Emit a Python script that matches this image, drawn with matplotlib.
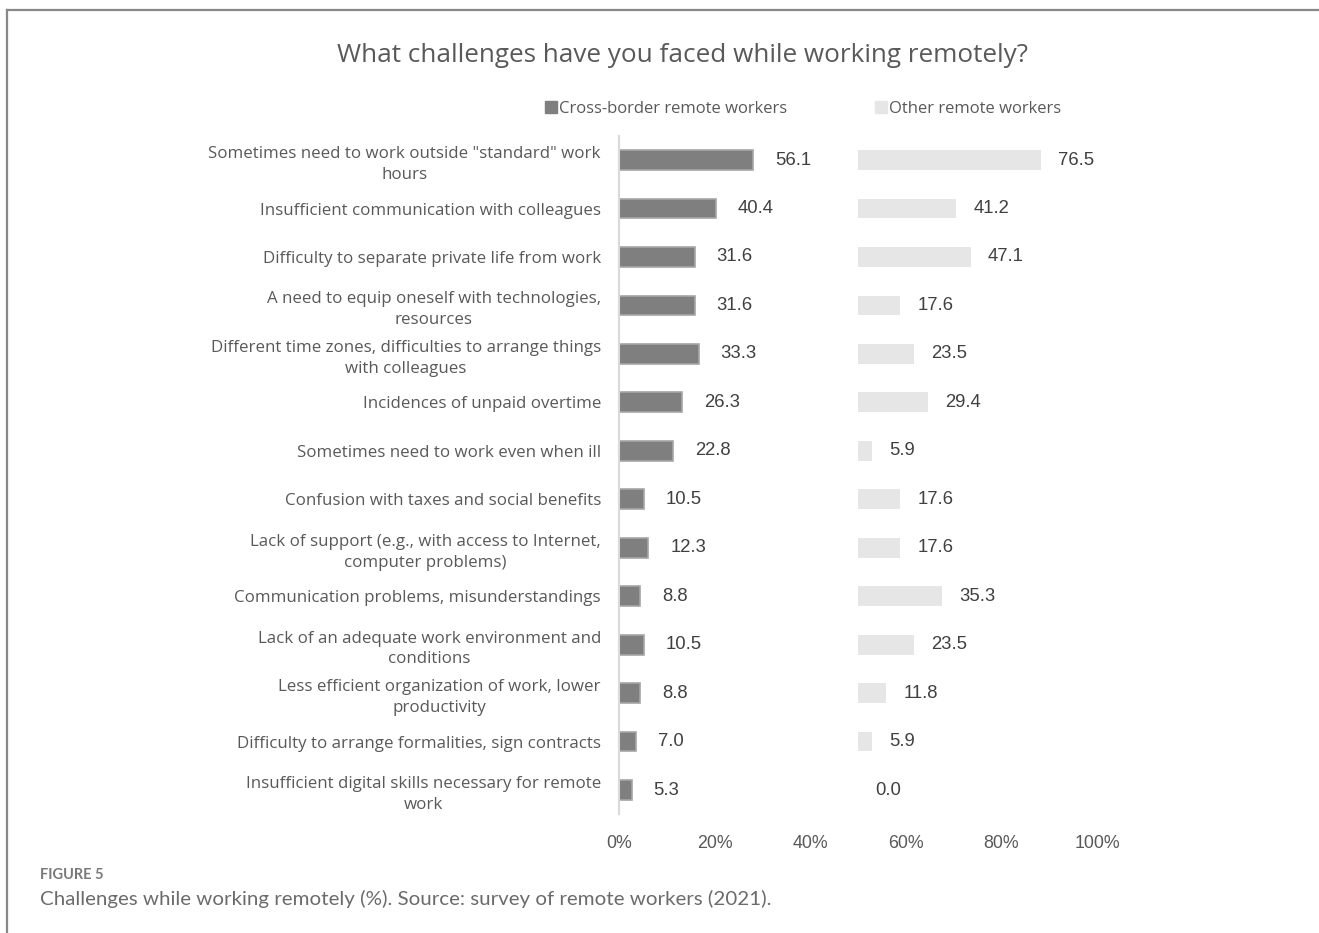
import matplotlib
matplotlib.use("Agg")
import matplotlib.pyplot as plt
from matplotlib.lines import Line2D

plt.rcParams['font.family'] = ['Open Sans', 'DejaVu Sans']

categories = [
    'Sometimes need to work outside "standard" work\nhours',
    'Insufficient communication with colleagues',
    'Difficulty to separate private life from work',
    'A need to equip oneself with technologies,\nresources',
    'Different time zones, difficulties to arrange things\nwith colleagues',
    'Incidences of unpaid overtime',
    'Sometimes need to work even when ill',
    'Confusion with taxes and social benefits',
    'Lack of support (e.g., with access to Internet,\ncomputer problems)',
    'Communication problems, misunderstandings',
    'Lack of an adequate work environment and\nconditions',
    'Less efficient organization of work, lower\nproductivity',
    'Difficulty to arrange formalities, sign contracts',
    'Insufficient digital skills necessary for remote\nwork',
]
cross_border = [56.1, 40.4, 31.6, 31.6, 33.3, 26.3, 22.8, 10.5, 12.3, 8.8, 10.5, 8.8, 7.0, 5.3]
other_remote = [76.5, 41.2, 47.1, 17.6, 23.5, 29.4, 5.9, 17.6, 17.6, 35.3, 23.5, 11.8, 5.9, 0.0]
series_names = ['Cross-border remote workers', 'Other remote workers']
xticks = [0, 20, 40, 60, 80, 100]

dark = '#7f7f7f'
light = '#e6e6e6'
txt = '#595959'

fig = plt.figure(figsize=(13.19, 9.33), dpi=100)
ax = fig.add_axes([0.4693, 0.1273, 0.3624, 0.7271])

y = list(range(len(categories)))
# each panel shares one 0-100 axis: cross-border in the left half, others from 50
half_cb = [v / 2 for v in cross_border]
half_ot = [v / 2 for v in other_remote]
ax.barh(y, half_cb, height=0.41, color=dark, edgecolor='#a6a6a6', linewidth=1.2)
ax.barh(y, half_ot, left=50, height=0.41, color=light, edgecolor='none')

for yi, v, w in zip(y, cross_border, half_cb):
    ax.text(w + 4.6, yi, f'{v:.1f}', va='center', ha='left', fontsize=13.3,
            color='#404040', family=['Liberation Sans', 'DejaVu Sans'])
for yi, v, w in zip(y, other_remote, half_ot):
    ax.text(50 + w + 3.6, yi, f'{v:.1f}', va='center', ha='left', fontsize=13.3,
            color='#404040', family=['Liberation Sans', 'DejaVu Sans'])

ax.set_xlim(0, 100)
ax.set_ylim(len(categories) - 0.5, -0.5)
ax.set_xticks(xticks)
ax.set_xticklabels([f'{t}%' for t in xticks], fontsize=12.8, color=txt,
                   family=['Liberation Sans', 'DejaVu Sans'])
ax.set_yticks(y)
ax.set_yticklabels(categories, fontsize=12.2, color=txt)
for lab in ax.get_yticklabels():
    lab.set_multialignment('center')
    lab.set_linespacing(1.4)
ax.tick_params(axis='both', length=0)
ax.tick_params(axis='x', pad=15)
ax.tick_params(axis='y', pad=13)
for s in ['top', 'right', 'bottom']:
    ax.spines[s].set_visible(False)
ax.spines['left'].set_color('#d9d9d9')
ax.spines['left'].set_linewidth(1.5)

fig.text(0.5175, 0.941, 'What challenges have you faced while working remotely?',
         ha='center', va='center', fontsize=18.8, color=txt)

# legend row
handles = [Line2D([], [], marker='s', linestyle='none', markersize=8, color=dark),
           Line2D([], [], marker='s', linestyle='none', markersize=8, color=light)]
fig.legend(handles, series_names, loc='center', bbox_to_anchor=(0.6085, 0.883), ncol=2,
           frameon=False, fontsize=12, labelcolor=txt, handletextpad=0.1,
           columnspacing=5.2, handlelength=0.8)

# caption under the chart
fig.text(0.0303, 0.0622, 'FIGURE 5', fontsize=10.5, color='#7a7a7a', fontweight='bold',
         family=['Lato', 'DejaVu Sans'], va='center')
fig.text(0.0303, 0.0365, 'Challenges while working remotely (%). Source: survey of remote workers (2021).',
         fontsize=14.75, color='#6b6b6b', family=['Lato', 'DejaVu Sans'], va='center')

# page frame, top and left edges
fig.add_artist(Line2D([0.0050, 1.0], [0.9898, 0.9898], color='#888888', linewidth=1.6))
fig.add_artist(Line2D([0.0050, 0.0050], [0.0, 0.9898], color='#888888', linewidth=1.6))

fig.savefig('out.png', dpi=100)
